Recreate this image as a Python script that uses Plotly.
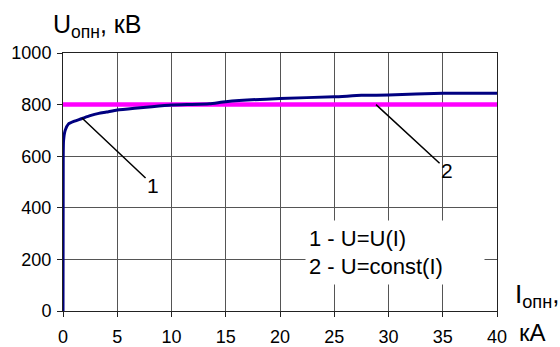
import plotly.graph_objects as go

# Curve 1: U = U(I)
I1 = [0, 0.02, 0.05, 0.2, 0.5, 1.0, 1.7, 2.5, 3.3, 4.0, 5.0, 6.6, 8.2, 10.0, 13.5, 15.0, 20.0, 25.0, 27.5, 30.0, 35.0, 40.0]
U1 = [0, 600, 660, 700, 725, 735, 745, 757, 766, 771, 779, 786, 792, 798, 803, 811, 824, 830, 836, 837, 844, 844]
# Curve 2: U = const(I)
I2 = [0, 40]
U2 = [800, 800]

x_ticks = [0, 5, 10, 15, 20, 25, 30, 35, 40]
y_ticks = [0, 200, 400, 600, 800, 1000]

FONT = "Liberation Sans, Arial, sans-serif"

fig = go.Figure()
fig.add_trace(go.Scatter(x=I2, y=U2, mode="lines",
                         line=dict(color="#FF00FF", width=4.5), showlegend=False))
fig.add_trace(go.Scatter(x=I1, y=U1, mode="lines",
                         line=dict(color="#000080", width=3, shape="spline", smoothing=0.5),
                         showlegend=False))

fig.update_layout(
    width=560, height=347,
    margin=dict(l=63, r=63, t=52.5, b=36),
    paper_bgcolor="white", plot_bgcolor="white",
    font=dict(family=FONT, color="black", size=18),
    xaxis=dict(range=[0, 40], tickvals=x_ticks, ticktext=[str(v) for v in x_ticks],
               showgrid=True, gridcolor="#555555", gridwidth=1, automargin=False,
               showline=True, linecolor="#222222", linewidth=1, mirror=True,
               ticks="outside", ticklen=5, tickcolor="#222222", ticklabelstandoff=4,
               zeroline=False, tickfont=dict(size=18)),
    yaxis=dict(range=[0, 1000], tickvals=y_ticks, ticktext=[str(v) for v in y_ticks],
               showgrid=True, gridcolor="#555555", gridwidth=1, automargin=False,
               showline=True, linecolor="#222222", linewidth=1, mirror=True,
               ticks="outside", ticklen=5, tickcolor="#222222", ticklabelstandoff=2,
               zeroline=False, tickfont=dict(size=18)),
)

# Leader labels
fig.add_annotation(x=1.75, y=748, ax=8.3, ay=488, axref="x", ayref="y",
                   text="1", showarrow=True, arrowhead=0, arrowwidth=1.5, arrowcolor="black",
                   font=dict(size=21, color="black"))
fig.add_annotation(x=28.85, y=800, ax=35.4, ay=546, axref="x", ayref="y",
                   text="2", showarrow=True, arrowhead=0, arrowwidth=1.5, arrowcolor="black",
                   font=dict(size=21, color="black"))

# Legend text box
fig.add_annotation(x=(305 - 63) / 10.85, y=(311 - 220) / 0.2585, xref="x", yref="y",
                   xanchor="left", yanchor="top", align="left",
                   text="1 - U=U(I)<br>2 - U=const(I)", showarrow=False,
                   bgcolor="white", borderpad=3, width=172, height=57,
                   font=dict(size=22, color="black"))

# Axis titles
fig.add_annotation(xref="paper", yref="paper", x=-0.028, y=1.105, xanchor="left", yanchor="middle",
                   text="U<sub>опн</sub>, кВ", showarrow=False, font=dict(size=25, color="black"))
fig.add_annotation(xref="paper", yref="paper", x=1.037, y=-0.01, xanchor="left", yanchor="bottom",
                   text="I<sub>опн</sub>,", showarrow=False, font=dict(size=26, color="black"))
fig.add_annotation(xref="paper", yref="paper", x=1.045, y=-0.145, xanchor="left", yanchor="bottom",
                   text="кА", showarrow=False, font=dict(size=24, color="black"))

fig.write_html("out.html", config={"displayModeBar": False},
               post_script="document.body.style.margin='0';document.body.style.overflow='hidden';")
